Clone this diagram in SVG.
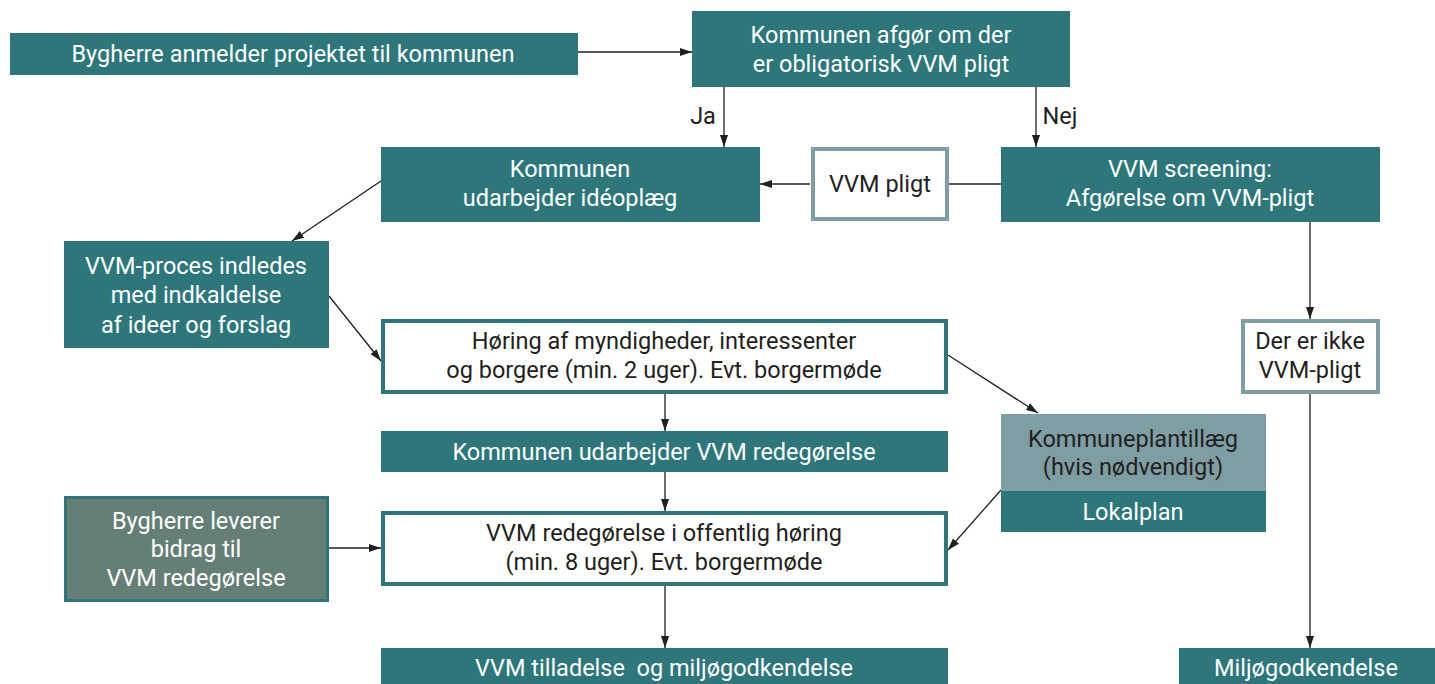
<svg xmlns="http://www.w3.org/2000/svg" width="1435" height="684" viewBox="0 0 1435 684">
<style>
.teal{fill:#2d777b}
.wb{fill:#ffffff;stroke:#2d777b;stroke-width:4}
.gb{fill:#ffffff;stroke:#7f9ea3;stroke-width:4}
.t{font-family:Roboto,"Open Sans",sans-serif;font-size:23.5px;text-anchor:middle;fill:#ffffff}
.d{fill:#231f20}
.c{stroke:#231f20;stroke-width:1.3;fill:none}
</style>
<defs>
<marker id="ah" viewBox="0 0 12 8" refX="12" refY="4" markerWidth="12" markerHeight="8" markerUnits="userSpaceOnUse" orient="auto">
<path d="M0,0 L12,4 L0,8 Z" fill="#231f20"/>
</marker>
</defs>
<rect width="1435" height="684" fill="#ffffff"/>
<g id="connectors">
<line class="c" x1="578" y1="52" x2="692" y2="52" marker-end="url(#ah)"/>
<line class="c" x1="724" y1="87" x2="724" y2="147" marker-end="url(#ah)"/>
<line class="c" x1="1036" y1="87" x2="1036" y2="147" marker-end="url(#ah)"/>
<line class="c" x1="1001" y1="184" x2="948" y2="184"/>
<line class="c" x1="810" y1="184" x2="760" y2="184" marker-end="url(#ah)"/>
<line class="c" x1="381" y1="181" x2="292" y2="241" marker-end="url(#ah)"/>
<line class="c" x1="329" y1="296" x2="381" y2="361" marker-end="url(#ah)"/>
<line class="c" x1="665" y1="394" x2="665" y2="431" marker-end="url(#ah)"/>
<line class="c" x1="665" y1="472" x2="665" y2="511" marker-end="url(#ah)"/>
<line class="c" x1="665" y1="586" x2="665" y2="648" marker-end="url(#ah)"/>
<line class="c" x1="329" y1="548" x2="381" y2="548" marker-end="url(#ah)"/>
<line class="c" x1="948" y1="355" x2="1038" y2="413" marker-end="url(#ah)"/>
<line class="c" x1="1001" y1="490" x2="948" y2="550" marker-end="url(#ah)"/>
<line class="c" x1="1310" y1="221" x2="1310" y2="319" marker-end="url(#ah)"/>
<line class="c" x1="1310" y1="394" x2="1310" y2="648" marker-end="url(#ah)"/>
<text class="t d" x="703" y="124">Ja</text>
<text class="t d" x="1060" y="124">Nej</text>
</g>
<g id="n1">
<rect class="teal" x="10" y="33" width="568" height="42"/>
<text class="t" x="293" y="62">Bygherre anmelder projektet til kommunen</text>
</g>
<g id="n2">
<rect class="teal" x="692" y="11" width="378" height="76"/>
<text class="t" x="881" y="43">Kommunen afgør om der</text>
<text class="t" x="881" y="72">er obligatorisk VVM pligt</text>
</g>
<g id="n3">
<rect class="teal" x="381" y="147" width="379" height="75"/>
<text class="t" x="570" y="177">Kommunen</text>
<text class="t" x="570" y="206">udarbejder idéoplæg</text>
</g>
<g id="n4">
<rect class="gb" x="813" y="149" width="134" height="70"/>
<text class="t d" x="880" y="192">VVM pligt</text>
</g>
<g id="n5">
<rect class="teal" x="1001" y="147" width="379" height="75"/>
<text class="t" x="1190" y="177">VVM screening:</text>
<text class="t" x="1190" y="206">Afgørelse om VVM-pligt</text>
</g>
<g id="n6">
<rect class="teal" x="64" y="241" width="265" height="107"/>
<text class="t" x="196" y="274">VVM-proces indledes</text>
<text class="t" x="196" y="303">med indkaldelse</text>
<text class="t" x="196" y="333">af ideer og forslag</text>
</g>
<g id="n7">
<rect class="wb" x="383" y="321" width="563" height="71"/>
<text class="t d" x="664" y="349">Høring af myndigheder, interessenter</text>
<text class="t d" x="664" y="378">og borgere (min. 2 uger). Evt. borgermøde</text>
</g>
<g id="n8">
<rect class="teal" x="381" y="431" width="567" height="41"/>
<text class="t" x="664" y="460">Kommunen udarbejder VVM redegørelse</text>
</g>
<g id="n9">
<rect class="wb" x="383" y="513" width="563" height="71"/>
<text class="t d" x="664" y="541">VVM redegørelse i offentlig høring</text>
<text class="t d" x="664" y="570">(min. 8 uger). Evt. borgermøde</text>
</g>
<g id="n10">
<rect class="teal" x="381" y="648" width="567" height="36"/>
<text class="t" x="664" y="676" xml:space="preserve">VVM tilladelse  og miljøgodkendelse</text>
</g>
<g id="n11">
<rect x="65.5" y="497.5" width="262" height="103" fill="#667f76" stroke="#2d777b" stroke-width="3"/>
<text class="t" x="196" y="529">Bygherre leverer</text>
<text class="t" x="196" y="557">bidrag til</text>
<text class="t" x="196" y="586">VVM redegørelse</text>
</g>
<g id="n12">
<rect x="1001" y="414" width="265" height="77" fill="#7f9ea3"/>
<text class="t d" x="1133" y="447">Kommuneplantillæg</text>
<text class="t d" x="1133" y="475">(hvis nødvendigt)</text>
</g>
<g id="n13">
<rect class="teal" x="1001" y="491" width="265" height="41"/>
<text class="t" x="1133" y="520">Lokalplan</text>
</g>
<g id="n14">
<rect class="gb" x="1243" y="321" width="135" height="71"/>
<text class="t d" x="1310" y="349">Der er ikke</text>
<text class="t d" x="1310" y="378">VVM-pligt</text>
</g>
<g id="n15">
<rect class="teal" x="1179" y="648" width="256" height="36"/>
<text class="t" x="1306" y="676">Miljøgodkendelse</text>
</g>
</svg>
